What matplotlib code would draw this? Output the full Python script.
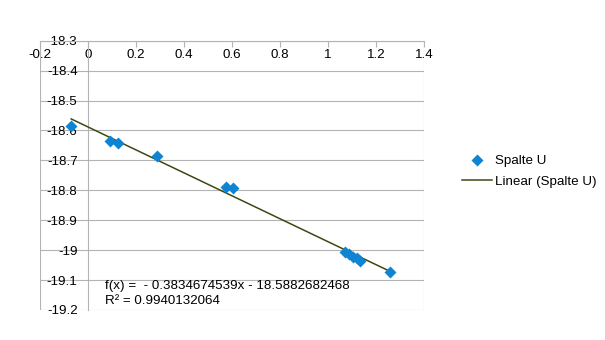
import matplotlib
matplotlib.use('Agg')
import matplotlib.pyplot as plt
import numpy as np

plt.rcParams['font.family'] = ['Liberation Sans', 'DejaVu Sans']

# Spalte U
x_u = [-0.07, 0.093, 0.123, 0.288, 0.575, 0.605, 1.071, 1.089, 1.105, 1.12, 1.135, 1.26]
y_u = [-18.584, -18.634, -18.643, -18.684, -18.788, -18.793,
       -19.007, -19.013, -19.022, -19.027, -19.036, -19.072]

# linear trend line, as printed on the chart
slope = -0.3834674539
intercept = -18.5882682468
r2 = 0.9940132064

x_ticks = [-0.2, 0, 0.2, 0.4, 0.6, 0.8, 1, 1.2, 1.4]
x_labels = ['-0.2', '0', '0.2', '0.4', '0.6', '0.8', '1', '1.2', '1.4']
y_ticks = [-18.3, -18.4, -18.5, -18.6, -18.7, -18.8, -18.9, -19, -19.1, -19.2]
y_labels = ['-18.3', '-18.4', '-18.5', '-18.6', '-18.7', '-18.8', '-18.9', '-19', '-19.1', '-19.2']

W, H = 605, 340
fig = plt.figure(figsize=(W / 100, H / 100), dpi=100)
ax = fig.add_axes([40 / W, 1 - 310 / H, 384 / W, 269.3 / H])

grid_c = '#b3b3b3'
fs = 9.6

ax.set_xlim(-0.2, 1.4)
ax.set_ylim(-19.2, -18.3)

# grid lines + frame
for yv in y_ticks:
    ax.axhline(yv, color=grid_c, lw=0.8, zorder=1)
ax.axvline(-0.2, color=grid_c, lw=0.8, zorder=1)
ax.axvline(1.4, color=grid_c, lw=0.8, zorder=1)

for s in ['top', 'right']:
    ax.spines[s].set_visible(False)
ax.spines['bottom'].set_position(('data', -18.3))
ax.spines['left'].set_position(('data', 0))
ax.spines['bottom'].set_color(grid_c)
ax.spines['left'].set_color(grid_c)
ax.spines['bottom'].set_linewidth(0.8)
ax.spines['left'].set_linewidth(0.8)

ax.set_xticks(x_ticks)
ax.set_xticklabels(x_labels, fontsize=fs)
ax.set_yticks(y_ticks)
ax.set_yticklabels(y_labels, fontsize=fs)
ax.tick_params(axis='x', direction='out', length=4, width=0.8, color=grid_c, pad=2)
ax.tick_params(axis='y', length=0, pad=7.5)

# trend line over the data range
xl = np.array([min(x_u), max(x_u)])
ax.plot(xl, slope * xl + intercept, color='#3b4a12', lw=1.1, zorder=3,
        label='Linear (Spalte U)')
ax.plot(x_u, y_u, 'D', color='#0e84d2', ms=6, mec='none', zorder=4,
        label='Spalte U')

ax.text(105 / W, 1 - 289 / H,
        'f(x) =  - %.10fx - %.10f' % (-slope, -intercept),
        transform=fig.transFigure, fontsize=fs)
ax.text(105 / W, 1 - 304 / H, 'R² = %.10f' % r2,
        transform=fig.transFigure, fontsize=fs)

h, l = ax.get_legend_handles_labels()
fig.legend(h[::-1], l[::-1], loc='upper left', bbox_to_anchor=(462 / W, 1 - 155 / H),
           frameon=False, fontsize=fs, handlelength=2.25, handletextpad=0.2,
           borderpad=0, borderaxespad=0, labelspacing=0.62)

plt.savefig('out.png', dpi=100)
